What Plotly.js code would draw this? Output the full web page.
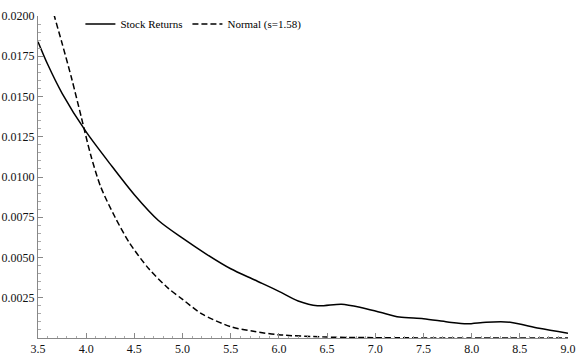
<!DOCTYPE html>
<html>
<head>
<meta charset="utf-8">
<script src="https://cdn.plot.ly/plotly-3.0.1.min.js"></script>
<style>html,body{margin:0;padding:0;background:#fff;}#chart{width:579px;height:357px;}</style>
</head>
<body>
<div id="chart"></div>
<script>
// Stock Returns (solid)
const stockX = [3.5, 3.6, 3.75, 4.0, 4.25, 4.5, 4.75, 5.0, 5.25, 5.5, 5.75, 6.0, 6.2, 6.4, 6.65, 6.85, 7.05, 7.25, 7.5, 7.75, 7.95, 8.15, 8.4, 8.7, 9.0];
const stockY = [0.0184, 0.0170, 0.0152, 0.0128, 0.0108, 0.0089, 0.0073, 0.0062, 0.0052, 0.0043, 0.0036, 0.0029, 0.0023, 0.0020, 0.0021, 0.0019, 0.0016, 0.0013, 0.0012, 0.0010, 0.00088, 0.00098, 0.00098, 0.0006, 0.0003];
// Normal (s=1.58) (dashed)
const normX = [3.62, 3.67, 3.75, 3.85, 3.95, 4.05, 4.15, 4.3, 4.45, 4.65, 4.85, 5.0, 5.2, 5.5, 5.75, 6.0, 6.5, 7.0, 8.0, 9.0];
const normY = [0.0212, 0.0200, 0.0183, 0.0161, 0.0137, 0.0113, 0.0094, 0.0075, 0.0059, 0.0043, 0.0031, 0.0024, 0.0015, 0.0007, 0.0004, 0.0002, 0.00006, 0.00002, 0.0, 0.0];
const seriesNames = ['Stock Returns', 'Normal (s=1.58)'];
const xTicks = [3.5, 4.0, 4.5, 5.0, 5.5, 6.0, 6.5, 7.0, 7.5, 8.0, 8.5, 9.0];
const yTicks = [0.0025, 0.0050, 0.0075, 0.0100, 0.0125, 0.0150, 0.0175, 0.0200];

const font = {family: '"Liberation Serif", "DejaVu Serif", serif', size: 11, color: '#000'};
const tickFont = {family: '"Liberation Serif", "DejaVu Serif", serif', size: 12, color: '#111'};
const data = [
  {x: stockX, y: stockY, name: seriesNames[0], mode: 'lines', line: {color: '#000', width: 1.5, shape: 'spline', smoothing: 0.8}},
  {x: normX, y: normY, name: seriesNames[1], mode: 'lines', line: {color: '#000', width: 1.5, dash: '6px,3px', shape: 'spline', smoothing: 0.8}}
];
const layout = {
  width: 579, height: 357,
  margin: {l: 38, r: 11, t: 10, b: 19},
  paper_bgcolor: '#fff', plot_bgcolor: '#fff',
  font: font,
  showlegend: true,
  legend: {orientation: 'h', x: 0.08, y: 1.02, xanchor: 'left', yanchor: 'top', bgcolor: 'rgba(0,0,0,0)', font: font, itemwidth: 30},
  xaxis: {range: [3.5, 9.0], tickvals: xTicks, ticktext: xTicks.map(v => v.toFixed(1)), showgrid: false, zeroline: false,
    showline: true, linecolor: '#888', linewidth: 1, ticks: 'inside', ticklen: 5, tickcolor: '#888',
    minor: {dtick: 0.1, ticks: 'inside', ticklen: 2.5, tickcolor: '#aaa', showgrid: false}, tickfont: tickFont},
  yaxis: {range: [0, 0.02], tickvals: yTicks, ticktext: yTicks.map(v => v.toFixed(4)), showgrid: false, zeroline: false,
    showline: true, linecolor: '#888', linewidth: 1, ticks: 'inside', ticklen: 5, tickcolor: '#888',
    minor: {dtick: 0.0005, ticks: 'inside', ticklen: 2.5, tickcolor: '#aaa', showgrid: false}, tickfont: tickFont}
};
Plotly.newPlot('chart', data, layout, {displayModeBar: false, staticPlot: true});
</script>
</body>
</html>
